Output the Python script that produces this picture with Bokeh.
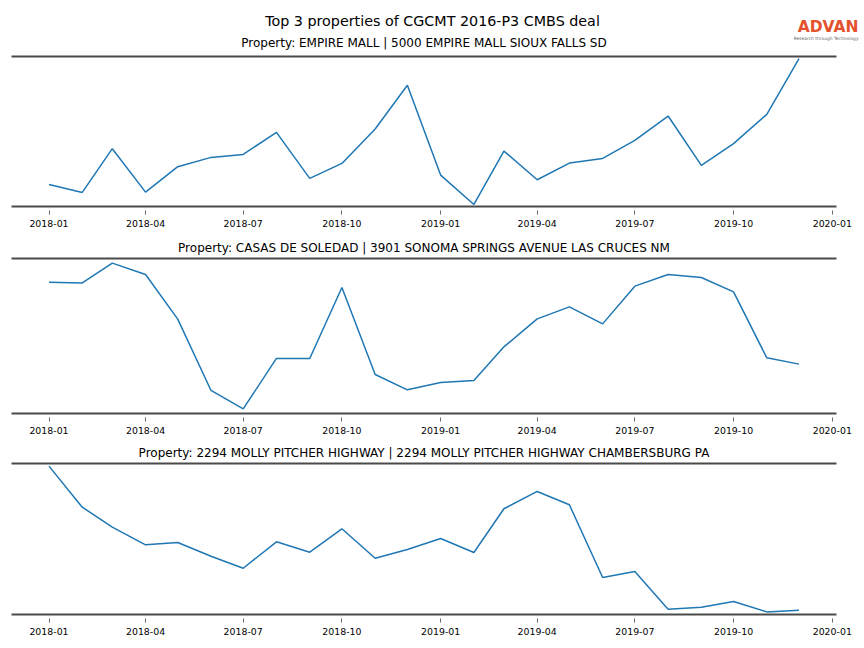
import pandas as pd
from bokeh.plotting import figure
from bokeh.layouts import column
from bokeh.models import Range1d, FixedTicker, LinearAxis, Title, Label
from bokeh.embed import file_html
from bokeh.resources import INLINE

# ---------------- data ----------------
months = ["2018-01", "2018-02", "2018-03", "2018-04", "2018-05", "2018-06",
          "2018-07", "2018-08", "2018-09", "2018-10", "2018-11", "2018-12",
          "2019-01", "2019-02", "2019-03", "2019-04", "2019-05", "2019-06",
          "2019-07", "2019-08", "2019-09", "2019-10", "2019-11", "2019-12"]

tick_labels = ["2018-01", "2018-04", "2018-07", "2018-10", "2019-01",
               "2019-04", "2019-07", "2019-10", "2020-01"]

main_title = "Top 3 properties of CGCMT 2016-P3 CMBS deal"
logo_text = "ADVAN"
logo_tagline = "Research through Technology"

titles = ["Property: EMPIRE MALL | 5000 EMPIRE MALL SIOUX FALLS SD",
          "Property: CASAS DE SOLEDAD | 3901 SONOMA SPRINGS AVENUE LAS CRUCES NM",
          "Property: 2294 MOLLY PITCHER HIGHWAY | 2294 MOLLY PITCHER HIGHWAY CHAMBERSBURG PA"]

empire_mall = [2660, 2420, 3731, 2429, 3191, 3470, 3560, 4220, 2840, 3290, 4319, 5630,
               2939, 2060, 3659, 2801, 3299, 3440, 3980, 4709, 3230, 3881, 4760, 6431]

casas_de_soledad = [4768, 4750, 5243, 4960, 3843, 2060, 1600, 2860, 2860, 4635, 2460, 2075,
                    2260, 2310, 3150, 3850, 4150, 3725, 4668, 4960, 4885, 4525, 2875, 2718]

molly_pitcher = [6432, 4792, 3992, 3288, 3380, 2832, 2352, 3408, 2992, 3928, 2752, 3100,
                 3540, 2980, 4728, 5420, 4888, 1980, 2220, 712, 792, 1020, 608, 672]

series = [empire_mall, casas_de_soledad, molly_pitcher]

# ---------------- styling ----------------
FONT = "DejaVu Sans"
LINE_COLOR = "#1f77b4"
SPINE_COLOR = "#4a4a4a"
PAGE_W = 864
FRAME_LEFT = 11
FRAME_W = 825

dates = pd.to_datetime(months)
tick_dates = pd.to_datetime(tick_labels)
span = dates[-1] - dates[0]
x_start = dates[0] - 0.05 * span
x_end = dates[-1] + 0.05 * span
tick_ms = [int(d.value // 10**6) for d in tick_dates]

# ---------------- header (suptitle, first subtitle, logo) ----------------
HEADER_H = 52
HF_W = PAGE_W - FRAME_LEFT
header = figure(width=PAGE_W, height=HEADER_H, output_backend="svg", toolbar_location=None,
                x_range=Range1d(0, HF_W), y_range=Range1d(0, HEADER_H),
                x_axis_location=None, y_axis_location=None,
                min_border_left=FRAME_LEFT, min_border_right=0,
                min_border_top=0, min_border_bottom=0)
header.frame_width = HF_W
header.frame_height = HEADER_H
header.outline_line_color = None
header.grid.visible = False

# x positions below are relative to the header frame's left edge (page x - FRAME_LEFT)
header.add_layout(Label(x=PAGE_W / 2 - FRAME_LEFT, y=HEADER_H - 20, x_units="screen",
                        y_units="screen", text=main_title, text_align="center",
                        text_baseline="middle", text_font=FONT, text_font_size="14.3px",
                        text_color="black"))
header.add_layout(Label(x=FRAME_W / 2, y=HEADER_H - 42, x_units="screen",
                        y_units="screen", text=titles[0], text_align="center",
                        text_baseline="middle", text_font=FONT, text_font_size="12px",
                        text_color="black"))
header.add_layout(Label(x=858 - FRAME_LEFT, y=HEADER_H - 26, x_units="screen",
                        y_units="screen", text=logo_text, text_align="right",
                        text_baseline="middle", text_font=FONT, text_font_style="bold",
                        text_font_size="15.5px", text_color="#e4512b"))
header.add_layout(Label(x=858 - FRAME_LEFT, y=HEADER_H - 37.5, x_units="screen",
                        y_units="screen", text=logo_tagline, text_align="right",
                        text_baseline="middle", text_font=FONT, text_font_size="4.4px",
                        text_color="#666666"))

# per-panel layout: (border_top, frame_height, border_bottom, y pad fraction)
layouts = [(4, 150, 28, 0.014), (24, 155, 25, 0.032), (25, 151, 26, 0.018)]

figs = []
for i, (ttl, vals) in enumerate(zip(titles, series)):
    btop, fh, bbot, pad = layouts[i]
    vmin, vmax = min(vals), max(vals)
    rng = vmax - vmin
    p = figure(width=PAGE_W, height=btop + fh + bbot,
               x_axis_type="datetime", output_backend="svg", toolbar_location=None,
               x_range=Range1d(x_start, x_end),
               y_range=Range1d(vmin - pad * rng, vmax + pad * rng),
               y_axis_location=None,
               min_border_left=FRAME_LEFT, min_border_right=PAGE_W - FRAME_LEFT - FRAME_W,
               min_border_top=btop, min_border_bottom=bbot)
    p.frame_width = FRAME_W
    p.frame_height = fh
    p.outline_line_color = None
    p.grid.visible = False
    p.background_fill_color = "white"
    p.border_fill_color = "white"

    p.line(dates, vals, line_color=LINE_COLOR, line_width=1.5)

    ax = p.xaxis[0]
    ax.ticker = FixedTicker(ticks=tick_ms)
    ax.major_label_overrides = {t: lab for t, lab in zip(tick_ms, tick_labels)}
    ax.axis_line_color = SPINE_COLOR
    ax.axis_line_width = 2
    ax.major_tick_in = -4
    ax.major_tick_out = 8
    ax.major_tick_line_color = "#666666"
    ax.major_tick_line_width = 1
    ax.minor_tick_line_color = None
    ax.major_label_standoff = 5
    ax.major_label_text_font = FONT
    ax.major_label_text_font_size = "9.4px"
    ax.major_label_text_color = "black"

    top = LinearAxis(ticker=FixedTicker(ticks=[]), axis_line_color=SPINE_COLOR,
                     axis_line_width=2, major_tick_in=0, major_tick_out=0,
                     minor_tick_in=0, minor_tick_out=0, major_label_standoff=0,
                     major_label_text_font_size="0px")
    p.add_layout(top, "above")

    if i > 0:
        p.add_layout(Title(text=ttl, align="center", text_font=FONT, text_font_size="12px",
                           text_font_style="normal", text_color="black", standoff=8), "above")
    figs.append(p)

layout = column(header, column(*figs, spacing=0), spacing=0)
open("out.html", "w").write(file_html(layout, INLINE))
